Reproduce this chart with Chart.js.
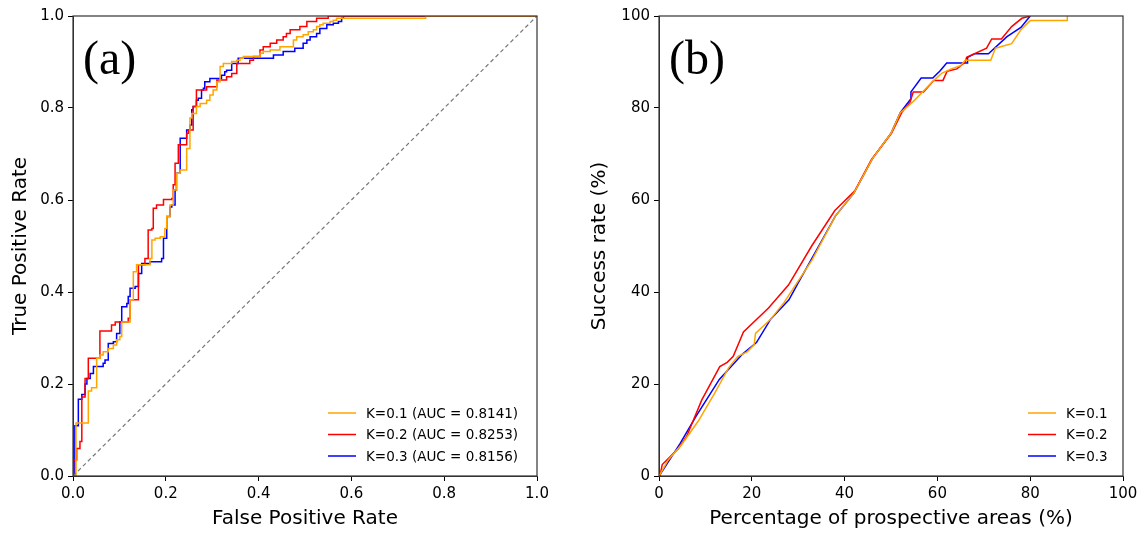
<!DOCTYPE html>
<html><head><meta charset="utf-8">
<script src="https://cdn.jsdelivr.net/npm/chart.js@4"></script>
<style>body{margin:0;background:#fff}canvas{position:absolute;top:0}</style>
</head><body>
<canvas id="a" style="left:0" width="573" height="538"></canvas>
<canvas id="b" style="left:573px" width="573" height="538"></canvas>
<script>
const rocK1=[[0,0],[0.0065,0.115],[0.033,0.185],[0.04,0.192],[0.051,0.2],[0.051,0.256],[0.058,0.263],[0.065,0.27],[0.076,0.277],[0.087,0.285],[0.094,0.296],[0.101,0.303],[0.105,0.335],[0.123,0.383],[0.13,0.444],[0.137,0.459],[0.166,0.473],[0.17,0.513],[0.177,0.517],[0.188,0.52],[0.198,0.538],[0.202,0.564],[0.209,0.589],[0.216,0.622],[0.223,0.658],[0.231,0.665],[0.245,0.712],[0.252,0.778],[0.256,0.788],[0.266,0.803],[0.274,0.81],[0.288,0.817],[0.295,0.828],[0.302,0.839],[0.31,0.857],[0.317,0.89],[0.324,0.897],[0.342,0.901],[0.353,0.904],[0.36,0.908],[0.367,0.912],[0.403,0.919],[0.41,0.923],[0.425,0.926],[0.446,0.933],[0.475,0.948],[0.482,0.955],[0.496,0.959],[0.507,0.966],[0.518,0.97],[0.525,0.977],[0.532,0.981],[0.539,0.984],[0.554,0.988],[0.561,0.991],[0.568,0.995],[0.76,0.995],[0.76,1],[1,1]];
const rocK2=[[0,0],[0.001,0.035],[0.008,0.06],[0.015,0.075],[0.019,0.172],[0.026,0.212],[0.033,0.256],[0.058,0.263],[0.058,0.315],[0.083,0.328],[0.091,0.335],[0.119,0.343],[0.123,0.383],[0.141,0.39],[0.141,0.459],[0.155,0.473],[0.162,0.535],[0.17,0.538],[0.173,0.582],[0.18,0.589],[0.195,0.601],[0.213,0.603],[0.216,0.633],[0.22,0.68],[0.227,0.72],[0.245,0.745],[0.249,0.752],[0.259,0.803],[0.266,0.839],[0.288,0.846],[0.31,0.861],[0.331,0.868],[0.342,0.875],[0.353,0.897],[0.381,0.904],[0.389,0.912],[0.403,0.926],[0.41,0.933],[0.425,0.941],[0.439,0.948],[0.453,0.955],[0.46,0.962],[0.468,0.97],[0.489,0.977],[0.504,0.988],[0.525,0.995],[0.55,1],[1,1]];
const rocK3=[[0,0],[0.004,0.109],[0.0115,0.167],[0.019,0.177],[0.026,0.2],[0.03,0.212],[0.037,0.223],[0.044,0.238],[0.065,0.245],[0.069,0.252],[0.076,0.288],[0.087,0.292],[0.094,0.31],[0.101,0.335],[0.105,0.368],[0.116,0.375],[0.119,0.39],[0.123,0.408],[0.134,0.412],[0.141,0.44],[0.148,0.462],[0.166,0.466],[0.191,0.473],[0.195,0.517],[0.202,0.564],[0.209,0.585],[0.213,0.589],[0.22,0.622],[0.223,0.658],[0.231,0.734],[0.245,0.752],[0.252,0.763],[0.256,0.796],[0.259,0.803],[0.266,0.817],[0.27,0.821],[0.277,0.839],[0.281,0.843],[0.284,0.857],[0.295,0.864],[0.32,0.871],[0.327,0.879],[0.331,0.882],[0.342,0.897],[0.356,0.908],[0.432,0.915],[0.453,0.923],[0.478,0.93],[0.496,0.941],[0.504,0.948],[0.511,0.955],[0.525,0.962],[0.532,0.973],[0.547,0.981],[0.561,0.984],[0.572,0.988],[0.579,0.995],[0.583,1],[1,1]];
const srK1=[[0,0],[2,3.5],[5,7],[8.5,12],[12,18],[15,23.5],[17,26],[19,27],[20.5,28.5],[20.8,31],[24,34],[27,37.8],[33,47],[38,56.5],[42,61.5],[46,69],[50,74.5],[52,79],[54,80.7],[55,81.6],[57,83.7],[59,85.8],[61,87.6],[63,88.5],[65,89.2],[66,90.4],[71.5,90.4],[72.5,93],[76,94],[78,97],[80,99],[88,99],[88,100]];
const srK2=[[0.2,0],[0.7,2.5],[4.2,6],[6,8.7],[9.2,16.5],[13.1,23.8],[14.7,24.7],[16,26],[18.2,31.3],[23.6,36.5],[27.9,41.5],[32.9,50],[37.9,57.7],[42.2,62],[45.8,68.8],[50.1,74.5],[52.3,79],[54.1,81.2],[54.8,83.5],[57,83.5],[59.2,86],[61.2,86],[62.1,88],[64.2,88.5],[66,90],[66.3,91],[70.6,93],[71.7,95],[73.8,95],[76,97.7],[78.2,99.5],[80,100]];
const srK3=[[0,0],[1,1.5],[4.5,7],[8,13],[13,21],[18,26.5],[21,29],[24,34],[28,38.3],[30,42],[35,51],[38,56.5],[42,61.5],[46,69],[50,74.5],[52,79],[54.3,82],[54.3,83.5],[56.5,86.5],[59,86.5],[60.5,88],[62,89.8],[66.5,89.8],[66.5,91],[68,91.8],[71,91.8],[75,95.5],[78,97.5],[80,100]];
const rocLabels=['K=0.1 (AUC = 0.8141)','K=0.2 (AUC = 0.8253)','K=0.3 (AUC = 0.8156)'];
const srLabels=['K=0.1','K=0.2','K=0.3'];
const colors=['#FFA500','#FF0000','#0000FF'];
const F='"DejaVu Sans", sans-serif';
const pts=a=>a.map(p=>({x:p[0],y:p[1]}));

function deco(tag,labels,legX){
  return {id:'deco',afterDraw(c){
    const ctx=c.ctx,a=c.chartArea;ctx.save();
    ctx.strokeStyle='#333';ctx.lineWidth=1.2;ctx.strokeRect(a.left,a.top,a.right-a.left,a.bottom-a.top);
    ctx.fillStyle='#000';ctx.font='48px "Liberation Serif", serif';ctx.textBaseline='alphabetic';
    ctx.fillText(tag,a.left+10,a.top+58);
    ctx.font='13.5px '+F;ctx.textBaseline='middle';
    labels.forEach((l,i)=>{const y=413+i*21.5;ctx.strokeStyle=colors[i];ctx.lineWidth=1.5;
      ctx.beginPath();ctx.moveTo(legX,y);ctx.lineTo(legX+28,y);ctx.stroke();ctx.fillText(l,legX+38,y+1);});
    ctx.restore();}};
}
function axis(title,min,max,step,fmt,isX,fit){
  return {type:'linear',min,max,
    ticks:{stepSize:step,color:'#000',font:{size:15,family:F},callback:fmt,padding:4,autoSkip:false,maxRotation:0},
    grid:{drawOnChartArea:false,tickLength:5,color:'#000',tickColor:'#000'},
    border:{display:true,color:'#333'},
    title:{display:true,text:title,color:'#000',font:{size:20,family:F},padding:{top:2,bottom:0}},
    afterFit(s){if(isX)s.height=fit;else s.width=fit;}};
}
function make(id,sets,labels,diag,xt,yt,xmax,ymax,step,fmt,pad,yw,legX,tag){
  const ds=sets.map((s,i)=>({label:labels[i],data:pts(s),borderColor:colors[i],borderWidth:1.5,pointRadius:0,fill:false,stepped:diag?'before':false,tension:0}));
  if(diag) ds.unshift({data:[{x:0,y:0},{x:1,y:1}],borderColor:'#777',borderWidth:1.2,borderDash:[4,3],pointRadius:0});
  new Chart(document.getElementById(id),{type:'line',data:{datasets:ds},
    options:{responsive:false,animation:false,layout:{padding:pad},
      plugins:{legend:{display:false},tooltip:{enabled:false}},
      scales:{x:axis(xt,0,xmax,step[0],fmt,true,55),y:axis(yt,0,ymax,step[1],fmt,false,yw)}},
    plugins:[deco(tag,labels,legX)]});
}
make('a',[rocK1,rocK2,rocK3],rocLabels,true,'False Positive Rate','True Positive Rate',1,1,[0.2,0.2],v=>v.toFixed(1),{left:7,top:16,right:36,bottom:7},66,328,'(a)');
make('b',[srK1,srK2,srK3],srLabels,false,'Percentage of prospective areas (%)','Success rate (%)',100,100,[20,20],v=>v,{left:13,top:16,right:23,bottom:7},73,455,'(b)');
</script>
</body></html>
